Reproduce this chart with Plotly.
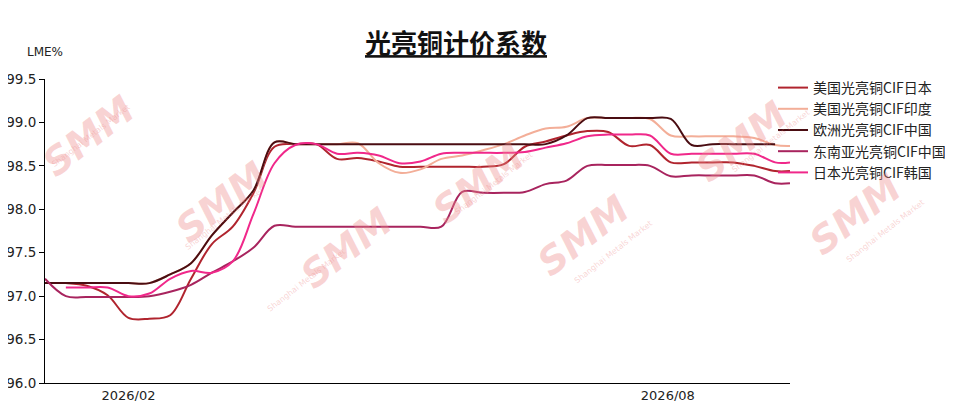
import plotly.graph_objects as go
import pandas as pd

# weekly dates (plus final date)
dates = list(pd.date_range("2026-01-04", periods=36, freq="7D").strftime("%Y-%m-%d")) + ["2026-09-11"]

japan = [97.15, 97.15, 97.12, 97.01, 96.75, 96.74, 96.78, 97.20, 97.60, 97.80,
         98.19, 98.72, 98.75, 98.75, 98.58, 98.59, 98.55, 98.49, 98.49, 98.49,
         98.49, 98.49, 98.52, 98.72, 98.78, 98.85, 98.90, 98.89, 98.73, 98.74,
         98.54, 98.54, 98.54, 98.54, 98.50, 98.44, 98.44]
india = [97.15, 97.15, 97.15, 97.15, 97.15, 97.15, 97.25, 97.38, 97.70, 97.96,
         98.22, 98.77, 98.75, 98.75, 98.75, 98.76, 98.53, 98.42, 98.46, 98.58,
         98.62, 98.68, 98.75, 98.85, 98.93, 98.95, 99.05, 99.05, 99.05, 99.04,
         98.85, 98.84, 98.84, 98.84, 98.82, 98.74, 98.73]
europe = [97.15, 97.15, 97.15, 97.15, 97.15, 97.15, 97.25, 97.38, 97.70, 97.96,
          98.22, 98.77, 98.75, 98.75, 98.75, 98.75, 98.75, 98.75, 98.75, 98.75,
          98.75, 98.75, 98.75, 98.75, 98.75, 98.85, 99.05, 99.05, 99.05, 99.05,
          99.04, 98.74, 98.75, 98.75, 98.75, 98.75, None]
seasia = [97.20, 97.00, 96.99, 96.99, 96.99, 97.00, 97.05, 97.13, 97.27, 97.40,
          97.56, 97.81, 97.80, 97.80, 97.80, 97.80, 97.80, 97.80, 97.80, 97.80,
          98.20, 98.19, 98.19, 98.20, 98.29, 98.33, 98.50, 98.51, 98.51, 98.50,
          98.38, 98.39, 98.39, 98.39, 98.39, 98.30, 98.30]
korea = [None, 97.10, 97.10, 97.10, 97.00, 97.03, 97.20, 97.29, 97.27, 97.40,
         97.95, 98.53, 98.74, 98.75, 98.64, 98.65, 98.62, 98.53, 98.55, 98.64,
         98.65, 98.65, 98.65, 98.66, 98.71, 98.76, 98.84, 98.86, 98.86, 98.85,
         98.64, 98.64, 98.64, 98.64, 98.64, 98.54, 98.54]

names = ["美国光亮铜CIF日本", "美国光亮铜CIF印度", "欧洲光亮铜CIF中国", "东南亚光亮铜CIF中国", "日本光亮铜CIF韩国"]
colors = ["#B0242E", "#F3AE98", "#4A0D12", "#A8245E", "#F0288A"]
series = [japan, india, europe, seasia, korea]

OFF = 8  # page body margin
W, H = 953 - OFF, 401 - OFF
L, R, T, B = 45, 790, 79, 383  # plot area in page pixels


def px2paper(px, py):
    return (px - L) / (R - L), (B - py) / (B - T)


TICKFONT = "DejaVu Sans"
CJK = "'Noto Sans CJK SC'"

fig = go.Figure()

# watermarks
wm = [(32, 84), (165, 202), (290, 300), (478, 132), (640, 236), (798, 90), (912, 215)]
for (px, py) in wm:
    x, y = px2paper(px, py)
    fig.add_annotation(x=x, y=y, xref="paper", yref="paper",
                       text="<b><i>SMM</i></b>", showarrow=False, textangle=-38,
                       font=dict(family="DejaVu Sans", size=38, color="rgba(238,140,140,0.38)"))
    x2, y2 = px2paper(px + 16, py + 16)
    fig.add_annotation(x=x2, y=y2, xref="paper", yref="paper",
                       text="Shanghai Metals Market", showarrow=False, textangle=-38,
                       font=dict(family="DejaVu Sans", size=8, color="rgba(238,140,140,0.38)"))

for name, col, vals in zip(names, colors, series):
    fig.add_trace(go.Scatter(x=dates, y=vals, name=name, mode="lines", legendgroup=name,
                             line=dict(color=col, width=2, shape="spline", smoothing=1.0),
                             connectgaps=False))

lx, ly = px2paper(773, 72)
fig.update_layout(
    width=W, height=H,
    margin=dict(l=L - OFF, r=953 - R, t=T - OFF, b=401 - B, autoexpand=False),
    paper_bgcolor="white", plot_bgcolor="white",
    font=dict(family=TICKFONT, size=13, color="#222"),
    title=dict(text="<b><u>光亮铜计价系数</u></b>", x=(456 - OFF) / W, xanchor="center",
               y=1 - (44 - OFF) / H, yanchor="middle",
               font=dict(family=CJK, size=26, color="#111")),
    showlegend=True,
    legend=dict(x=lx, xanchor="left", y=ly, yanchor="top", itemwidth=30,
                font=dict(family=CJK, size=14, color="#222"),
                bgcolor="rgba(0,0,0,0)", tracegroupgap=0),
    xaxis=dict(type="date", range=["2026-01-04", "2026-09-11"],
               tickvals=["2026-02-01", "2026-08-01"], ticktext=["2026/02", "2026/08"],
               showgrid=False, zeroline=False, showline=True, linecolor="#000", linewidth=1,
               ticks="", tickfont=dict(family=TICKFONT, size=13, color="#222")),
    yaxis=dict(range=[96, 99.5], dtick=0.5, tickformat=".1f",
               showgrid=False, zeroline=False, showline=True, linecolor="#000", linewidth=1,
               ticks="outside", ticklen=5, tickcolor="#000",
               tickfont=dict(family=TICKFONT, size=13.5, color="#222")),
)
ax, ay = px2paper(45, 52)
fig.add_annotation(x=ax, y=ay, xref="paper", yref="paper", text="LME%",
                   showarrow=False, xanchor="center", yanchor="middle",
                   font=dict(family=TICKFONT, size=12, color="#222"))

fig.write_html("out.html")
